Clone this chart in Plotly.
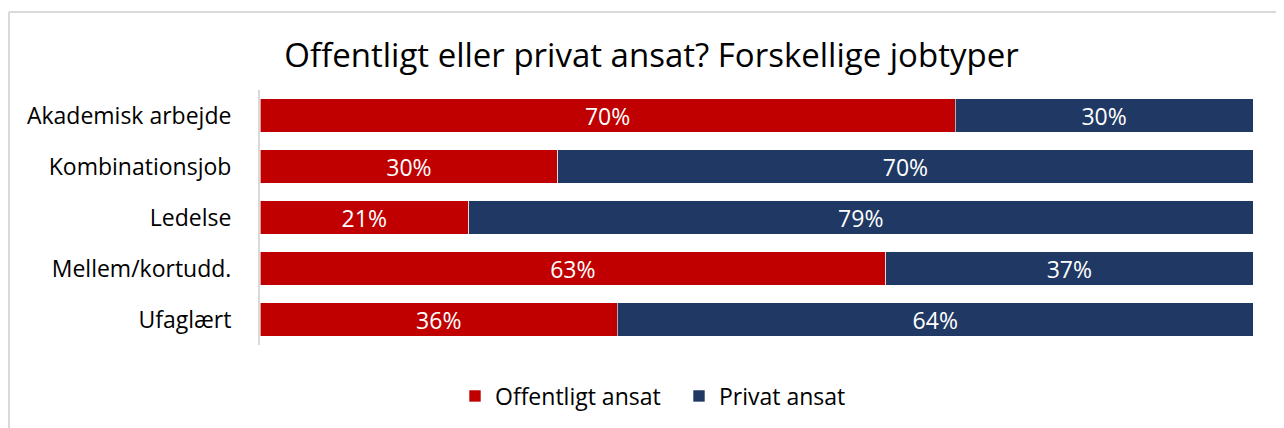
import plotly.graph_objects as go

categories = ["Akademisk arbejde", "Kombinationsjob", "Ledelse", "Mellem/kortudd.", "Ufaglært"]
offentligt = [70, 30, 21, 63, 36]
privat = [30, 70, 79, 37, 64]
series_names = ["Offentligt ansat", "Privat ansat"]
title_text = "Offentligt eller privat ansat? Forskellige jobtyper"

RED = "#C00000"
NAVY = "#203864"
FONT = "'Open Sans', 'Noto Sans', sans-serif"

# page body has an 8px margin; figure coordinates below are screen - 8
W, H = 1276, 420
L, R, T, B = 252, 31, 82, 83
PW = W - L - R
PH = H - T - B

fig = go.Figure()
for name, vals, col in [(series_names[0], offentligt, RED), (series_names[1], privat, NAVY)]:
    fig.add_trace(go.Bar(
        y=categories, x=vals, name=name, orientation="h",
        marker=dict(color=col, line=dict(color="rgba(255,255,255,0.6)", width=1)),
        text=[f"{v}%" for v in vals], textposition="inside", insidetextanchor="middle",
        constraintext="none",
        textfont=dict(color="white", size=23, family=FONT),
        hoverinfo="skip",
    ))

fig.update_layout(
    width=W, height=H,
    barmode="stack", bargap=0.35,
    margin=dict(l=L, r=R, t=T, b=B, autoexpand=False),
    paper_bgcolor="white", plot_bgcolor="white",
    font=dict(family=FONT, color="black"),
    title=dict(text=title_text, x=643.5 / W, xref="container", xanchor="center",
               y=1 - 47 / H, yref="container", yanchor="middle",
               font=dict(size=33, family=FONT, color="black")),
    xaxis=dict(range=[0, 100], visible=False, fixedrange=True),
    yaxis=dict(categoryorder="array", categoryarray=categories[::-1],
               showline=True, linecolor="#D9D9D9", linewidth=2,
               ticks="", tickfont=dict(size=23, family=FONT, color="black"),
               ticklabelstandoff=22, showgrid=False),
    legend=dict(orientation="h", x=(447 - L) / PW, xanchor="left", y=(T + PH - 388) / PH,
                yanchor="middle", entrywidth=179, entrywidthmode="pixels",
                font=dict(size=23, family=FONT, color="black"), traceorder="normal"),
    showlegend=True,
)

bx = (1 - L) / PW
by = (T + PH - 4) / PH
fig.add_shape(type="line", xref="paper", yref="paper",
              x0=bx, x1=(W + 20 - L) / PW, y0=by, y1=by,
              line=dict(color="#D9D9D9", width=2), layer="below")
fig.add_shape(type="line", xref="paper", yref="paper",
              x0=bx, x1=bx, y0=by, y1=-(B + 20) / PH,
              line=dict(color="#D9D9D9", width=2), layer="below")

fig.write_html("out.html")
